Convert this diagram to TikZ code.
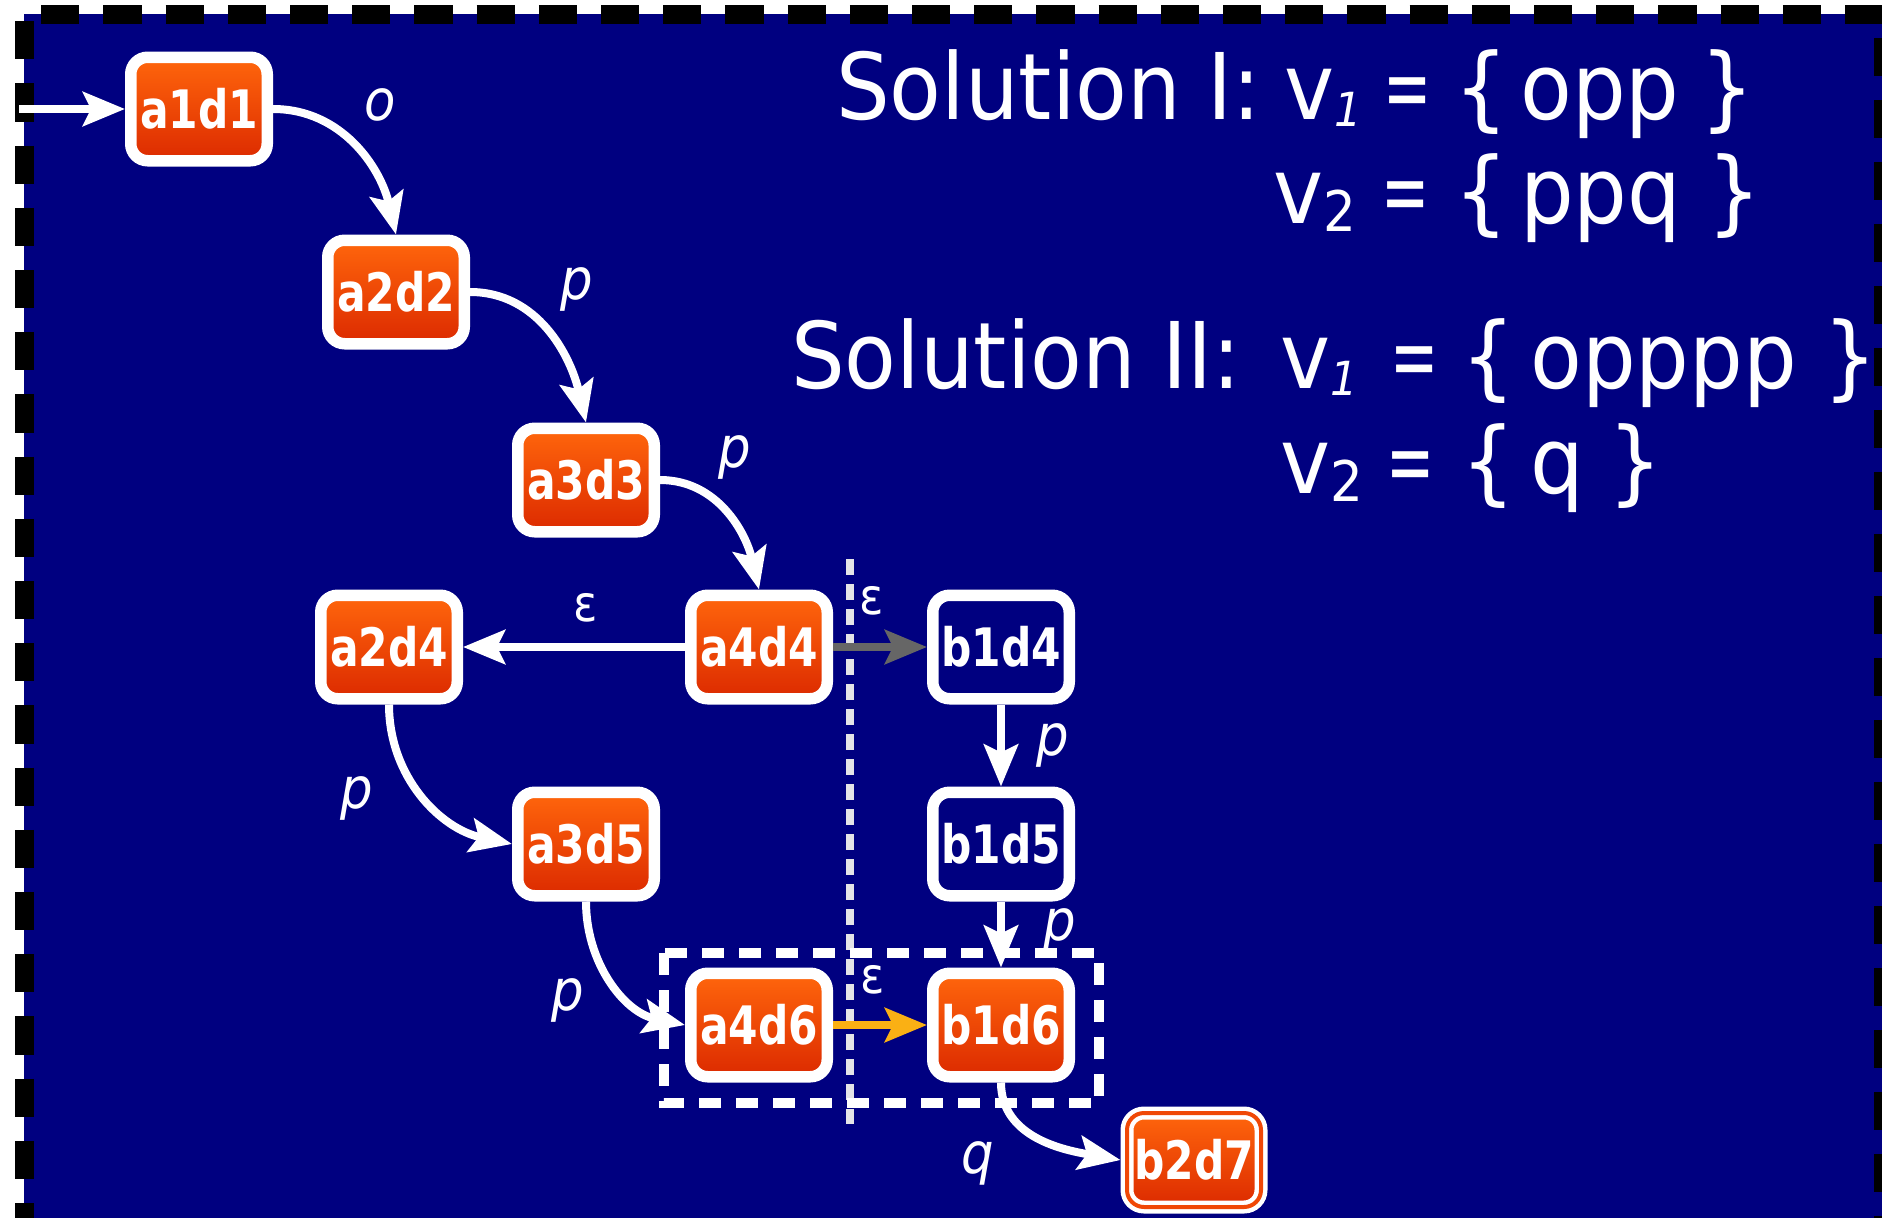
\documentclass[tikz,border=0pt]{standalone}
\usepackage{fontspec}
\setmainfont{DejaVu Sans}[FakeStretch=0.92]
\newfontfamily\nodefont{DejaVu Sans}[FakeStretch=0.80]
\newfontfamily\labfont{DejaVu Sans}[FakeStretch=0.90]
\usetikzlibrary{arrows.meta}
\definecolor{navy}{RGB}{0,0,128}
\definecolor{otop}{RGB}{255,102,12}
\definecolor{obot}{RGB}{220,42,0}
\definecolor{omid}{RGB}{240,72,6}
\definecolor{greyarrow}{RGB}{102,102,102}
\definecolor{yelarrow}{RGB}{250,176,20}
\definecolor{sepgrey}{RGB}{228,228,232}
\tikzset{
  st/.style={rounded corners=17pt, line width=11.5pt, draw=white,
    minimum width=136.5pt, minimum height=103.5pt, inner sep=0pt,
    text=white, font=\nodefont\bfseries\fontsize{53}{60}\selectfont},
  onode/.style={st, top color=otop, bottom color=obot},
  bnode/.style={st},
  fnode/.style={onode, double=omid, double distance=4pt, line width=4.5pt,
    minimum width=134pt, minimum height=94pt, outer sep=6.5pt},
  tip/.style={-{Stealth[length=42pt,width=34pt,inset=8pt]}},
  edge/.style={white, line width=8pt, tip},
  lab/.style={text=white, inner sep=0pt, font=\labfont\itshape\fontsize{57}{60}\selectfont},
  eps/.style={text=white, inner sep=0pt, font=\labfont\fontsize{50}{60}\selectfont},
  sol/.style={text=white, inner sep=0pt, anchor=base west, font=\fontsize{92}{100}\selectfont},
  sepline/.style={sepgrey, line width=8pt, dash pattern=on 15.5pt off 9.5pt},
  boxline/.style={white, line width=10pt, dash pattern=on 22pt off 15pt},
}
\newcommand{\subone}{\raisebox{-7pt}{\fontsize{47}{50}\selectfont\itshape 1}}
\newcommand{\subtwo}{\raisebox{-8pt}{\fontsize{56}{60}\selectfont 2}}
\newcommand{\nareq}{\scalebox{0.68}[1]{=}}
\begin{document}
\begin{tikzpicture}[x=1pt,y=-1pt]
\useasboundingbox (0,0) rectangle (1882,1218);
\fill[white] (0,0) rectangle (1882,1218);
\fill[navy] (24,14) rectangle (1884,1240);
\begin{scope}
  \clip (0,0) rectangle (1882,1218);
  \draw[black, line width=19pt, dash pattern=on 38.2pt off 24pt, dash phase=45pt] (24,14) -- (1890,14);
  \draw[black, line width=19pt, dash pattern=on 38.2pt off 24pt, dash phase=55pt] (24,14) -- (24,1240);
  \draw[black, line width=19pt, dash pattern=on 38pt off 24pt, dash phase=38pt] (1883.5,14) -- (1883.5,1240);
\end{scope}

% separators
\coordinate (vtop) at (850,559);
\coordinate (vbot) at (850,1124);
\draw[sepline] (vtop) -- (vbot);
\coordinate (r1) at (664,953);
\coordinate (r2) at (1099,1103);
\draw[boxline] (r1) rectangle (r2);

% nodes
\node[onode] (a1d1) at (199,109) {a1d1};
\node[onode] (a2d2) at (396,292) {a2d2};
\node[onode] (a3d3) at (586,480) {a3d3};
\node[onode] (a4d4) at (759,647) {a4d4};
\node[onode] (a2d4) at (389,647) {a2d4};
\node[onode] (a3d5) at (586,844) {a3d5};
\node[bnode] (b1d4) at (1001,647) {b1d4};
\node[bnode] (b1d5) at (1001,844) {b1d5};
\node[onode] (a4d6) at (759,1025) {a4d6};
\node[onode] (b1d6) at (1001,1025) {b1d6};
\node[fnode] (b2d7) at (1194,1160) {b2d7};

% edges
\coordinate (start) at (19,109);
\draw[edge] (start) -- (a1d1.west);
\draw[edge] (a1d1.east) to[out=0,in=103] (a2d2.north);
\draw[edge] (a2d2.east) to[out=0,in=103] (a3d3.north);
\draw[edge] (a3d3.east) to[out=0,in=103] (a4d4.north);
\draw[edge] (a4d4.west) -- (a2d4.east);
\draw[edge, greyarrow] (a4d4.east) -- (b1d4.west);
\draw[edge] (b1d4.south) -- (b1d5.north);
\draw[edge] (a2d4.south) to[out=-90,in=168] (a3d5.west);
\draw[edge] (b1d5.south) -- (b1d6.north);
\draw[edge] (a3d5.south) to[out=-90,in=168] (a4d6.west);
\draw[edge, yelarrow] (a4d6.east) -- (b1d6.west);
\draw[edge] (b1d6.south) to[out=-90,in=170] (b2d7.west);

% edge labels
\node[lab] (l1) at (380,105) {o};
\node[lab] (l2) at (577,289) {p};
\node[lab] (l3) at (735,457) {p};
\node[eps] (l4) at (586,608) {ε};
\node[eps] (l5) at (872,601) {ε};
\node[lab] (l6) at (1053,745) {p};
\node[lab] (l7) at (357,798) {p};
\node[lab] (l8) at (1060,930) {p};
\node[lab] (l9) at (568,1000) {p};
\node[eps] (l10) at (873,980) {ε};
\node[lab] (l11) at (978,1163) {q};

% solutions
\node[sol] (s1a) at (836,119) {Solution I:};
\node[sol] (s1v) at (1284,119) {v\subone};
\node[sol] (s1e) at (1383,119) {\nareq};
\node[sol] (s1l) at (1454,119) {\{};
\node[sol] (s1w) at (1520,119) {opp};
\node[sol] (s1r) at (1700,119) {\}};

\node[sol] (s2v) at (1273,223) {v\subtwo};
\node[sol] (s2e) at (1381,223) {\nareq};
\node[sol] (s2l) at (1454,223) {\{};
\node[sol] (s2w) at (1520,223) {ppq};
\node[sol] (s2r) at (1707,223) {\}};

\node[sol] (s3a) at (791,388) {Solution II:};
\node[sol] (s3v) at (1280,388) {v\subone};
\node[sol] (s3e) at (1390,388) {\nareq};
\node[sol] (s3l) at (1461,388) {\{};
\node[sol] (s3w) at (1530,388) {opppp};
\node[sol] (s3r) at (1823,388) {\}};

\node[sol] (s4v) at (1280,493) {v\subtwo};
\node[sol] (s4e) at (1386,493) {\nareq};
\node[sol] (s4l) at (1461,493) {\{};
\node[sol] (s4w) at (1530,493) {q};
\node[sol] (s4r) at (1608,493) {\}};
\end{tikzpicture}
\end{document}
